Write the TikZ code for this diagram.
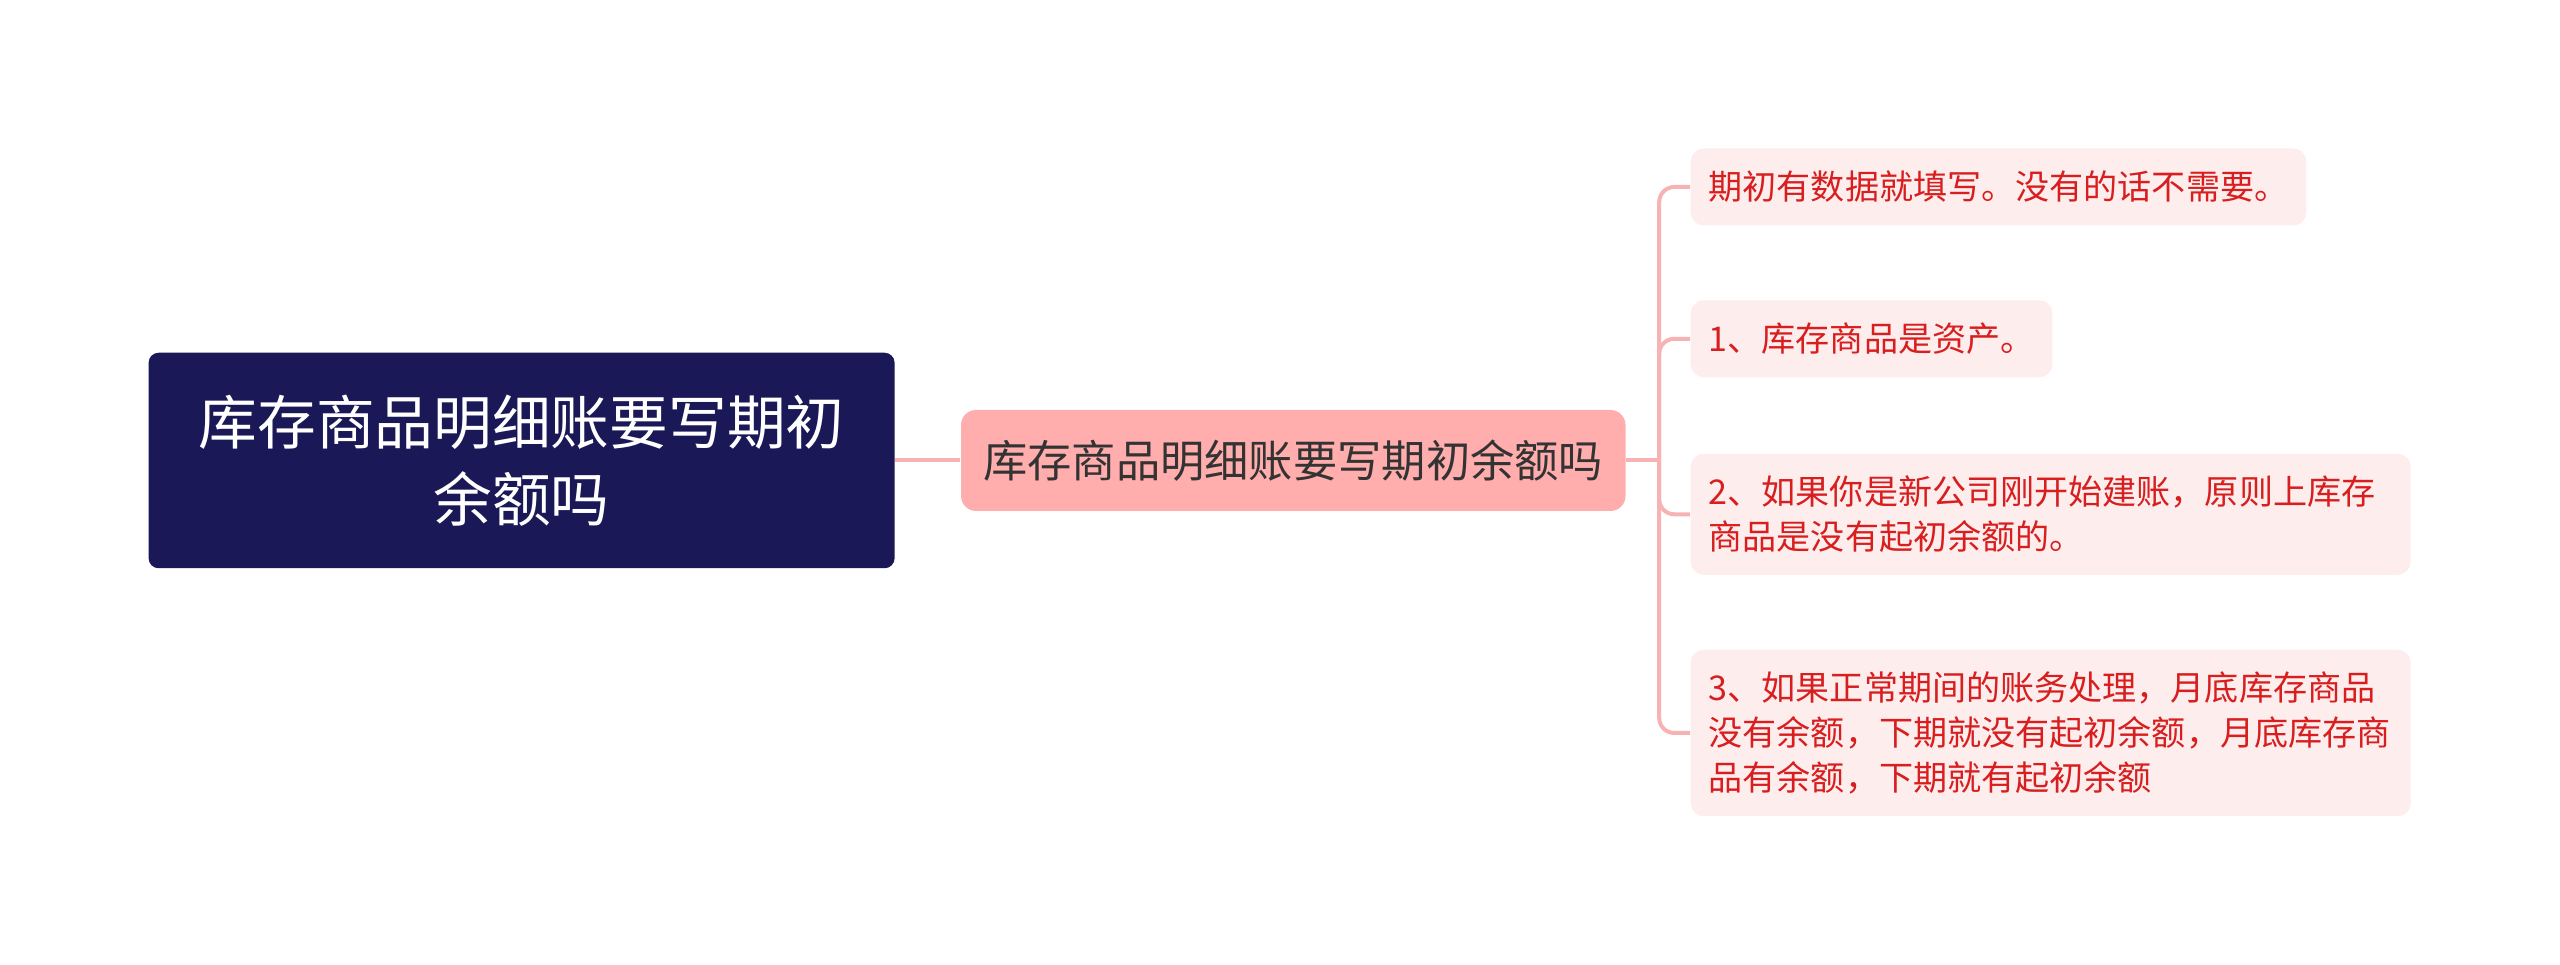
\documentclass[tikz,border=0pt]{standalone}
\usepackage{fontspec}
\setmainfont{Noto Sans CJK SC}
\usetikzlibrary{positioning}

\definecolor{rootblue}{HTML}{1A1856}
\definecolor{midpink}{HTML}{FFADAD}
\definecolor{leafpink}{HTML}{FDEDED}
\definecolor{leafred}{HTML}{D81E1E}
\definecolor{linkpink}{HTML}{F7B3B3}
\definecolor{midtext}{HTML}{333333}

\begin{document}
\begin{tikzpicture}[
  rootbox/.style={rectangle, rounded corners=0.1cm, fill=rootblue, text=white, align=center,
    minimum width=7.46cm, minimum height=2.155cm, font=\fontsize{16.7}{21.8}\selectfont},
  midbox/.style={rectangle, rounded corners=0.15cm, fill=midpink, text=midtext, align=center,
    minimum width=6.645cm, minimum height=1.01cm, font=\fontsize{12.6}{16}\selectfont},
  leaf/.style={rectangle, rounded corners=0.13cm, fill=leafpink, text=leafred, align=left,
    anchor=west, inner xsep=0.18cm, inner ysep=0pt, font=\fontsize{9.7}{12.7}\selectfont},
  link/.style={draw=linkpink, line width=0.04cm, rounded corners=0.15cm},
]
\useasboundingbox (0,0) rectangle (25.6,9.65);

% === ROOT AND MAIN TOPIC ===
\node[rootbox] (root) at (5.216,5.045) {库存商品明细账要写期初\\余额吗};
\node[midbox, right=0.65cm of root] (mid) {库存商品明细账要写期初余额吗};
\coordinate[right=0.33cm of mid] (fork);

% === LEAVES ===
\node[leaf, minimum height=0.77cm] (first) at (16.9,7.78) {期初有数据就填写。没有的话不需要。};
\node[leaf, minimum height=0.77cm] (asset) at (16.9,6.262) {1、库存商品是资产。};
\node[leaf, minimum height=1.21cm, text width=6.84cm] (newco) at (16.9,4.507)
  {2、如果你是新公司刚开始建账，原则上库存\\商品是没有起初余额的。};
\node[leaf, minimum height=1.665cm, text width=6.84cm] (normal) at (16.9,2.32)
  {3、如果正常期间的账务处理，月底库存商品\\没有余额，下期就没有起初余额，月底库存商\\品有余额，下期就有起初余额};

% === CONNECTORS ===
\draw[link] (root.east) -- (mid.west);
\draw[link] (mid.east) -- (fork);
\draw[link] (fork) |- (first.west);
\draw[link] (fork) |- (asset.west);
\draw[link] (fork) |- (newco.west);
\draw[link] (fork) |- (normal.west);
\end{tikzpicture}
\end{document}
